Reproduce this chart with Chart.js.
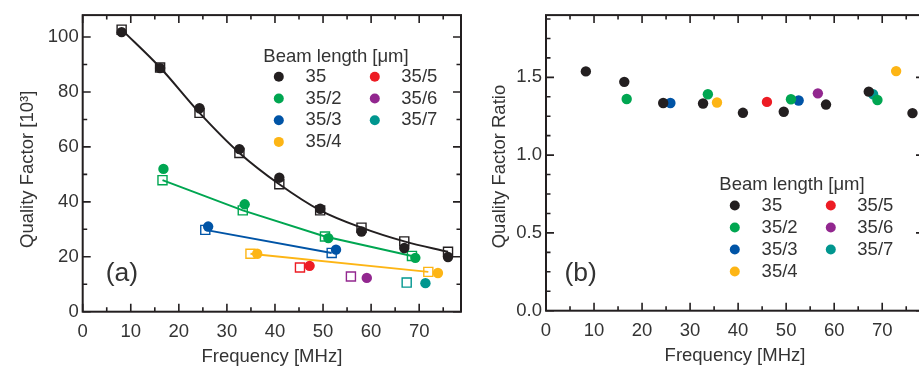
<!DOCTYPE html>
<html><head><meta charset="utf-8">
<script src="https://cdn.jsdelivr.net/npm/chart.js@4.4.0/dist/chart.umd.min.js"></script>
<style>
html,body{margin:0;padding:0;background:#fff;overflow:hidden;width:919px;height:366px;position:relative;}
#wrapA{position:absolute;left:0;top:0;width:470px;height:366px;}
#wrapB{position:absolute;left:460px;top:0;width:480px;height:366px;}
canvas{display:block;}
</style></head><body>
<div id="wrapA"><canvas id="cA" width="470" height="366"></canvas></div>
<div id="wrapB"><canvas id="cB" width="480" height="366"></canvas></div>
<script>
// ---------- data ----------
const seriesNames  = ['35', '35/2', '35/3', '35/4', '35/5', '35/6', '35/7'];
const seriesColors = ['#231f20', '#00a651', '#0054a6', '#fdb515', '#ed1c24', '#92278f', '#00968f'];

// Panel (a): measured quality factor (filled circles), 10^3
const freqMeas_35   = [8.1, 16.1, 24.3, 32.6, 40.9, 49.4, 58.0, 66.9, 76.0];
const qMeas_35      = [101.8, 88.7, 74.1, 59.2, 48.8, 37.5, 29.2, 23.2, 19.9];
const freqMeas_35_2 = [16.8, 33.7, 51.1, 69.2];
const qMeas_35_2    = [52.0, 39.1, 26.8, 19.6];
const freqMeas_35_3 = [26.1, 52.7];
const qMeas_35_3    = [31.0, 22.6];
const freqMeas_35_4 = [36.3, 73.9];
const qMeas_35_4    = [21.1, 14.1];
const freqMeas_35_5 = [47.2];
const qMeas_35_5    = [16.7];
const freqMeas_35_6 = [59.1];
const qMeas_35_6    = [12.3];
const freqMeas_35_7 = [71.3];
const qMeas_35_7    = [10.4];

// Panel (a): model quality factor (open squares, lines)
const freqModel_35   = [8.1, 16.1, 24.3, 32.6, 40.9, 49.4, 58.0, 66.9, 76.0];
const qModel_35      = [102.7, 88.9, 72.4, 57.8, 46.4, 36.9, 30.6, 25.6, 21.8];
const freqModel_35_2 = [16.6, 33.3, 50.4, 68.5];
const qModel_35_2    = [47.9, 36.9, 27.4, 20.3];
const freqModel_35_3 = [25.5, 51.8];
const qModel_35_3    = [29.8, 21.4];
const freqModel_35_4 = [34.9, 71.9];
const qModel_35_4    = [21.1, 14.5];
const freqModel_35_5 = [45.2];
const qModel_35_5    = [16.1];
const freqModel_35_6 = [55.8];
const qModel_35_6    = [12.8];
const freqModel_35_7 = [67.4];
const qModel_35_7    = [10.6];

// Panel (b): quality factor ratio
const freqRatio_35   = [8.3, 16.3, 24.4, 32.7, 41.0, 49.5, 58.3, 67.2, 76.3];
const ratio_35       = [1.538, 1.471, 1.335, 1.332, 1.272, 1.279, 1.325, 1.408, 1.270];
const freqRatio_35_2 = [16.8, 33.7, 51.0, 69.0];
const ratio_35_2     = [1.361, 1.391, 1.359, 1.354];
const freqRatio_35_3 = [25.9, 52.6];
const ratio_35_3     = [1.335, 1.351];
const freqRatio_35_4 = [35.6, 72.9];
const ratio_35_4     = [1.338, 1.540];
const freqRatio_35_5 = [46.0];
const ratio_35_5     = [1.342];
const freqRatio_35_6 = [56.6];
const ratio_35_6     = [1.397];
const freqRatio_35_7 = [68.1];
const ratio_35_7     = [1.391];

const xTicksStep = 10, xMinorStep = 5;
const qTicksStep = 20, qMinorStep = 10;
const rTicksStep = 0.5, rMinorStep = 0.125;

const xTitle = 'Frequency [MHz]';
const yTitleA = 'Quality Factor [10\u00B3]';
const yTitleB = 'Quality Factor Ratio';
const legendTitle = 'Beam length [\u03BCm]';

// ---------- build ----------
const measFreqs  = [freqMeas_35, freqMeas_35_2, freqMeas_35_3, freqMeas_35_4, freqMeas_35_5, freqMeas_35_6, freqMeas_35_7];
const measQs     = [qMeas_35, qMeas_35_2, qMeas_35_3, qMeas_35_4, qMeas_35_5, qMeas_35_6, qMeas_35_7];
const modelFreqs = [freqModel_35, freqModel_35_2, freqModel_35_3, freqModel_35_4, freqModel_35_5, freqModel_35_6, freqModel_35_7];
const modelQs    = [qModel_35, qModel_35_2, qModel_35_3, qModel_35_4, qModel_35_5, qModel_35_6, qModel_35_7];
const ratioFreqs = [freqRatio_35, freqRatio_35_2, freqRatio_35_3, freqRatio_35_4, freqRatio_35_5, freqRatio_35_6, freqRatio_35_7];
const ratios     = [ratio_35, ratio_35_2, ratio_35_3, ratio_35_4, ratio_35_5, ratio_35_6, ratio_35_7];

const zip = (xs, ys) => xs.map((x, i) => ({x: x, y: ys[i]}));

const AXIS_COLOR = '#231f20';
const TEXT_COLOR = '#333333';
const FONT = "'Liberation Sans', Arial, Helvetica, sans-serif";
const FS = 18.5;

const decor = {
  id: 'decor',
  afterDatasetsDraw(chart, args, o) {
    const ctx = chart.ctx, a = chart.chartArea, xs = chart.scales.x, ys = chart.scales.y;
    ctx.save();
    ctx.strokeStyle = AXIS_COLOR;
    ctx.lineWidth = 1.6;
    const drawTicks = (scale, minor, major, horiz) => {
      const k0 = Math.ceil(scale.min / minor - 1e-6), k1 = Math.floor(scale.max / minor + 1e-6);
      for (let k = k0; k <= k1; k++) {
        const v = k * minor;
        const isMajor = Math.abs(v / major - Math.round(v / major)) < 1e-6;
        const len = isMajor ? 8 : 4.5;
        const p = scale.getPixelForValue(v);
        ctx.beginPath();
        if (horiz) {
          ctx.moveTo(p, a.bottom); ctx.lineTo(p, a.bottom - len);
          ctx.moveTo(p, a.top); ctx.lineTo(p, a.top + len);
        } else {
          ctx.moveTo(a.left, p); ctx.lineTo(a.left + len, p);
          ctx.moveTo(a.right, p); ctx.lineTo(a.right - len, p);
        }
        ctx.stroke();
      }
    };
    drawTicks(xs, o.xMinor, o.xMajor, true);
    drawTicks(ys, o.yMinor, o.yMajor, false);
    ctx.lineWidth = 2;
    ctx.strokeRect(a.left, a.top, a.right - a.left, a.bottom - a.top);

    ctx.fillStyle = TEXT_COLOR;
    ctx.font = FS + 'px ' + FONT;
    ctx.textBaseline = 'alphabetic';
    ctx.textAlign = 'center';
    ctx.fillText(o.xTitle, (a.left + a.right) / 2, o.xTitleY);
    ctx.save();
    ctx.translate(o.yTitleX, o.yTitleY);
    ctx.rotate(-Math.PI / 2);
    ctx.textAlign = 'left';
    ctx.fillText(o.yTitle, 0, 0);
    ctx.restore();

    ctx.font = '26.5px ' + FONT;
    ctx.textAlign = 'left';
    ctx.fillText(o.panel, o.panelX, o.panelY);

    // legend
    const L = o.legend;
    ctx.font = FS + 'px ' + FONT;
    ctx.fillText(legendTitle, L.x, L.y);
    ctx.textBaseline = 'middle';
    seriesNames.forEach((name, i) => {
      const col = i < 4 ? 0 : 1;
      const row = i < 4 ? i : i - 4;
      const cy = L.y + 15.2 + row * L.gap;
      const dotX = L.x + (col === 0 ? 15.5 : 111.5);
      const txtX = L.x + (col === 0 ? 42.3 : 138);
      ctx.beginPath();
      ctx.fillStyle = seriesColors[i];
      ctx.arc(dotX, cy, 5, 0, Math.PI * 2);
      ctx.fill();
      ctx.fillStyle = TEXT_COLOR;
      ctx.fillText(name, txtX, cy);
    });
    ctx.restore();
  }
};

const tickFont = {family: FONT, size: FS};

function baseOptions(xMax, yMax, yStep, yw, xh, padRight, yFmt, xPad) {
  return {
    responsive: false,
    animation: false,
    events: [],
    layout: {padding: {left: 0, right: padRight, top: 10, bottom: 0}},
    plugins: {legend: {display: false}, tooltip: {enabled: false}},
    scales: {
      x: {
        type: 'linear', min: 0, max: xMax,
        grid: {display: false, drawTicks: false},
        border: {display: false},
        ticks: {stepSize: xTicksStep, includeBounds: false, color: TEXT_COLOR, font: tickFont, padding: xPad, maxRotation: 0},
        afterFit: s => { s.height = xh; }
      },
      y: {
        type: 'linear', min: 0, max: yMax,
        grid: {display: false, drawTicks: false},
        border: {display: false},
        ticks: {stepSize: yStep, includeBounds: false, color: TEXT_COLOR, font: tickFont, padding: 4, callback: yFmt},
        afterFit: s => { s.width = yw; }
      }
    }
  };
}

// Panel (a)
const dsA = [];
seriesNames.forEach((name, i) => {
  dsA.push({
    label: name + ' model',
    data: zip(modelFreqs[i], modelQs[i]),
    showLine: modelFreqs[i].length > 1,
    borderColor: seriesColors[i],
    borderWidth: 2,
    cubicInterpolationMode: i === 0 ? 'monotone' : 'default',
    tension: 0,
    pointStyle: 'rect',
    pointRadius: 6.4,
    pointBorderWidth: 1.4,
    pointBorderColor: seriesColors[i],
    pointBackgroundColor: 'rgba(255,255,255,0)',
    order: 1
  });
  dsA.push({
    label: name,
    data: zip(measFreqs[i], measQs[i]),
    showLine: false,
    pointStyle: 'circle',
    pointRadius: 5.2,
    pointBorderWidth: 0,
    pointBackgroundColor: seriesColors[i],
    borderColor: seriesColors[i],
    order: 0
  });
});
const optA = baseOptions(78.7, 108, qTicksStep, 82.7, 54.3, 9, v => String(v), 9);
optA.plugins.decor = {
  xMinor: xMinorStep, xMajor: xTicksStep, yMinor: qMinorStep, yMajor: qTicksStep,
  xTitle: xTitle, xTitleY: 362, yTitle: yTitleA, yTitleX: 33, yTitleY: 248,
  panel: '(a)', panelX: 105.7, panelY: 281,
  legend: {x: 263.3, y: 61.6, gap: 21.7}
};
new Chart(document.getElementById('cA'), {type: 'scatter', data: {datasets: dsA}, options: optA, plugins: [decor]});

// Panel (b)
const dsB = seriesNames.map((name, i) => ({
  label: name,
  data: zip(ratioFreqs[i], ratios[i]),
  showLine: false,
  pointStyle: 'circle',
  pointRadius: 5.2,
  pointBorderWidth: 0,
  pointBackgroundColor: seriesColors[i],
  borderColor: seriesColors[i],
  order: i
}));
const optB = baseOptions(78.7, 1.9, rTicksStep, 86, 55.3, 16, v => v.toFixed(1), 9);
optB.plugins.decor = {
  xMinor: xMinorStep, xMajor: xTicksStep, yMinor: rMinorStep, yMajor: rTicksStep,
  xTitle: xTitle, xTitleY: 361, yTitle: yTitleB, yTitleX: 45, yTitleY: 248.3,
  panel: '(b)', panelX: 104.4, panelY: 281,
  legend: {x: 259.3, y: 190.3, gap: 22}
};
new Chart(document.getElementById('cB'), {type: 'scatter', data: {datasets: dsB}, options: optB, plugins: [decor]});
</script>
</body></html>
